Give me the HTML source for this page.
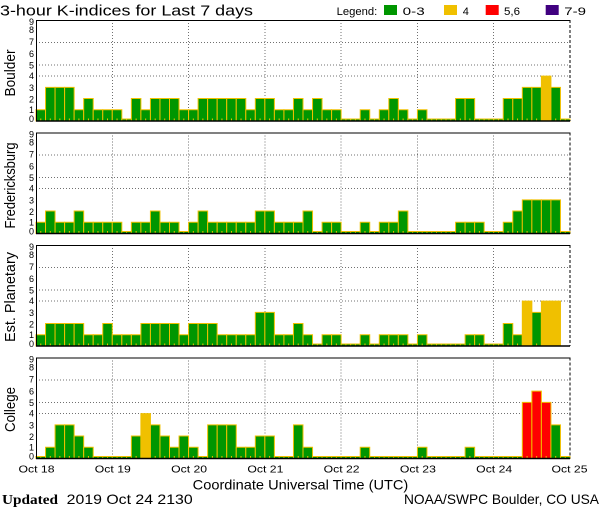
<!DOCTYPE html>
<html><head><meta charset="utf-8"><style>
html,body{margin:0;padding:0;background:#fff;width:600px;height:510px;overflow:hidden}
svg{display:block}
text{font-family:"Liberation Sans",sans-serif;fill:#000}
.b rect{fill:#009600;stroke:#F0C000;stroke-width:1;vector-effect:non-scaling-stroke}
.b rect.o{fill:#F0C000}
.b rect.r{fill:#FF0000}
.yl text{font-size:9px;text-anchor:end}
.xl text{font-size:10.5px;text-anchor:middle}
</style></head><body>
<svg width="600" height="510" viewBox="0 0 600 510" xmlns="http://www.w3.org/2000/svg">
<defs>
<g id="grid" stroke="#707070" stroke-width="1" stroke-dasharray="1,2" fill="none" shape-rendering="crispEdges">
<line x1="36" y1="56.1" x2="570" y2="56.1"/>
<line x1="36" y1="44.9" x2="570" y2="44.9"/>
<line x1="36" y1="22.4" x2="570" y2="22.4"/>
<line x1="112.3" y1="0" x2="112.3" y2="101"/>
<line x1="188.6" y1="0" x2="188.6" y2="101"/>
<line x1="264.9" y1="0" x2="264.9" y2="101"/>
<line x1="341.1" y1="0" x2="341.1" y2="101"/>
<line x1="417.4" y1="0" x2="417.4" y2="101"/>
<line x1="493.7" y1="0" x2="493.7" y2="101"/>
</g>
<g id="frame" fill="none" stroke="#000">
<line x1="36" y1="0.5" x2="570" y2="0.5" stroke-width="1"/>
<line x1="36.5" y1="0" x2="36.5" y2="101" stroke-width="1"/>
<line x1="570" y1="0" x2="570" y2="101" stroke-width="1" stroke-dasharray="3,2"/>
<line x1="36" y1="101" x2="570" y2="101" stroke-width="1.6"/>
</g>
</defs>

<!-- Title & legend -->
<text x="0" y="15.5" font-size="15" textLength="253" lengthAdjust="spacingAndGlyphs">3-hour K-indices for Last 7 days</text>
<text x="336.7" y="15" font-size="11" textLength="40.6" lengthAdjust="spacingAndGlyphs">Legend:</text>
<rect x="384" y="5" width="13" height="10" fill="#009600"/>
<text x="402.7" y="15" font-size="11" textLength="22" lengthAdjust="spacingAndGlyphs">0-3</text>
<rect x="444" y="5" width="13" height="10" fill="#F0C000"/>
<text x="462.7" y="15" font-size="11">4</text>
<rect x="485.7" y="5" width="13" height="10" fill="#FF0000"/>
<text x="504" y="15" font-size="11" textLength="16" lengthAdjust="spacingAndGlyphs">5,6</text>
<rect x="545.7" y="5" width="13" height="10" fill="#400080"/>
<text x="564.3" y="15" font-size="11" textLength="21.7" lengthAdjust="spacingAndGlyphs">7-9</text>

<!-- Grids -->
<use href="#grid" transform="translate(0,20)"/>
<use href="#grid" transform="translate(0,132.5)"/>
<use href="#grid" transform="translate(0,245)"/>
<use href="#grid" transform="translate(0,357.5)"/>

<!-- Boulder bars -->
<g class="b" transform="translate(36,121) scale(9.5357,-11.222)">
<rect x="0" width="1" height="1"/><rect x="1" width="1" height="3"/><rect x="2" width="1" height="3"/><rect x="3" width="1" height="3"/><rect x="4" width="1" height="1"/><rect x="5" width="1" height="2"/><rect x="6" width="1" height="1"/><rect x="7" width="1" height="1"/><rect x="8" width="1" height="1"/><rect x="9" width="1" height=".18"/>
<rect x="10" width="1" height="2"/><rect x="11" width="1" height="1"/><rect x="12" width="1" height="2"/><rect x="13" width="1" height="2"/><rect x="14" width="1" height="2"/><rect x="15" width="1" height="1"/><rect x="16" width="1" height="1"/><rect x="17" width="1" height="2"/><rect x="18" width="1" height="2"/><rect x="19" width="1" height="2"/>
<rect x="20" width="1" height="2"/><rect x="21" width="1" height="2"/><rect x="22" width="1" height="1"/><rect x="23" width="1" height="2"/><rect x="24" width="1" height="2"/><rect x="25" width="1" height="1"/><rect x="26" width="1" height="1"/><rect x="27" width="1" height="2"/><rect x="28" width="1" height="1"/><rect x="29" width="1" height="2"/>
<rect x="30" width="1" height="1"/><rect x="31" width="1" height="1"/><rect x="32" width="1" height=".18"/><rect x="33" width="1" height=".18"/><rect x="34" width="1" height="1"/><rect x="35" width="1" height=".18"/><rect x="36" width="1" height="1"/><rect x="37" width="1" height="2"/><rect x="38" width="1" height="1"/><rect x="39" width="1" height=".18"/>
<rect x="40" width="1" height="1"/><rect x="41" width="1" height=".18"/><rect x="42" width="1" height=".18"/><rect x="43" width="1" height=".18"/><rect x="44" width="1" height="2"/><rect x="45" width="1" height="2"/><rect x="46" width="1" height=".18"/><rect x="47" width="1" height=".18"/><rect x="48" width="1" height=".18"/><rect x="49" width="1" height="2"/>
<rect x="50" width="1" height="2"/><rect x="51" width="1" height="3"/><rect x="52" width="1" height="3"/><rect class="o" x="53" width="1" height="4"/><rect x="54" width="1" height="3"/><rect x="55" width="1" height=".18"/>
</g>

<!-- Fredericksburg bars -->
<g class="b" transform="translate(36,233.5) scale(9.5357,-11.222)">
<rect x="0" width="1" height="1"/><rect x="1" width="1" height="2"/><rect x="2" width="1" height="1"/><rect x="3" width="1" height="1"/><rect x="4" width="1" height="2"/><rect x="5" width="1" height="1"/><rect x="6" width="1" height="1"/><rect x="7" width="1" height="1"/><rect x="8" width="1" height="1"/><rect x="9" width="1" height=".18"/>
<rect x="10" width="1" height="1"/><rect x="11" width="1" height="1"/><rect x="12" width="1" height="2"/><rect x="13" width="1" height="1"/><rect x="14" width="1" height="1"/><rect x="15" width="1" height=".18"/><rect x="16" width="1" height="1"/><rect x="17" width="1" height="2"/><rect x="18" width="1" height="1"/><rect x="19" width="1" height="1"/>
<rect x="20" width="1" height="1"/><rect x="21" width="1" height="1"/><rect x="22" width="1" height="1"/><rect x="23" width="1" height="2"/><rect x="24" width="1" height="2"/><rect x="25" width="1" height="1"/><rect x="26" width="1" height="1"/><rect x="27" width="1" height="1"/><rect x="28" width="1" height="2"/><rect x="29" width="1" height=".18"/>
<rect x="30" width="1" height="1"/><rect x="31" width="1" height="1"/><rect x="32" width="1" height=".18"/><rect x="33" width="1" height=".18"/><rect x="34" width="1" height="1"/><rect x="35" width="1" height=".18"/><rect x="36" width="1" height="1"/><rect x="37" width="1" height="1"/><rect x="38" width="1" height="2"/><rect x="39" width="1" height=".18"/>
<rect x="40" width="1" height=".18"/><rect x="41" width="1" height=".18"/><rect x="42" width="1" height=".18"/><rect x="43" width="1" height=".18"/><rect x="44" width="1" height="1"/><rect x="45" width="1" height="1"/><rect x="46" width="1" height="1"/><rect x="47" width="1" height=".18"/><rect x="48" width="1" height=".18"/><rect x="49" width="1" height="1"/>
<rect x="50" width="1" height="2"/><rect x="51" width="1" height="3"/><rect x="52" width="1" height="3"/><rect x="53" width="1" height="3"/><rect x="54" width="1" height="3"/><rect x="55" width="1" height=".18"/>
</g>

<!-- Est. Planetary bars -->
<g class="b" transform="translate(36,346) scale(9.5357,-11.222)">
<rect x="0" width="1" height="1"/><rect x="1" width="1" height="2"/><rect x="2" width="1" height="2"/><rect x="3" width="1" height="2"/><rect x="4" width="1" height="2"/><rect x="5" width="1" height="1"/><rect x="6" width="1" height="1"/><rect x="7" width="1" height="2"/><rect x="8" width="1" height="1"/><rect x="9" width="1" height="1"/>
<rect x="10" width="1" height="1"/><rect x="11" width="1" height="2"/><rect x="12" width="1" height="2"/><rect x="13" width="1" height="2"/><rect x="14" width="1" height="2"/><rect x="15" width="1" height="1"/><rect x="16" width="1" height="2"/><rect x="17" width="1" height="2"/><rect x="18" width="1" height="2"/><rect x="19" width="1" height="1"/>
<rect x="20" width="1" height="1"/><rect x="21" width="1" height="1"/><rect x="22" width="1" height="1"/><rect x="23" width="1" height="3"/><rect x="24" width="1" height="3"/><rect x="25" width="1" height="1"/><rect x="26" width="1" height="1"/><rect x="27" width="1" height="2"/><rect x="28" width="1" height="1"/><rect x="29" width="1" height=".18"/>
<rect x="30" width="1" height="1"/><rect x="31" width="1" height="1"/><rect x="32" width="1" height=".18"/><rect x="33" width="1" height=".18"/><rect x="34" width="1" height="1"/><rect x="35" width="1" height=".18"/><rect x="36" width="1" height="1"/><rect x="37" width="1" height="1"/><rect x="38" width="1" height="1"/><rect x="39" width="1" height=".18"/>
<rect x="40" width="1" height="1"/><rect x="41" width="1" height=".18"/><rect x="42" width="1" height=".18"/><rect x="43" width="1" height=".18"/><rect x="44" width="1" height=".18"/><rect x="45" width="1" height="1"/><rect x="46" width="1" height="1"/><rect x="47" width="1" height=".18"/><rect x="48" width="1" height=".18"/><rect x="49" width="1" height="2"/>
<rect x="50" width="1" height="1"/><rect class="o" x="51" width="1" height="4"/><rect x="52" width="1" height="3"/><rect class="o" x="53" width="1" height="4"/><rect class="o" x="54" width="1" height="4"/>
</g>

<!-- College bars -->
<g class="b" transform="translate(36,458.5) scale(9.5357,-11.222)">
<rect x="0" width="1" height=".18"/><rect x="1" width="1" height="1"/><rect x="2" width="1" height="3"/><rect x="3" width="1" height="3"/><rect x="4" width="1" height="2"/><rect x="5" width="1" height="1"/><rect x="6" width="1" height=".18"/><rect x="7" width="1" height=".18"/><rect x="8" width="1" height=".18"/><rect x="9" width="1" height=".18"/>
<rect x="10" width="1" height="2"/><rect class="o" x="11" width="1" height="4"/><rect x="12" width="1" height="3"/><rect x="13" width="1" height="2"/><rect x="14" width="1" height="1"/><rect x="15" width="1" height="2"/><rect x="16" width="1" height="1"/><rect x="17" width="1" height=".18"/><rect x="18" width="1" height="3"/><rect x="19" width="1" height="3"/>
<rect x="20" width="1" height="3"/><rect x="21" width="1" height="1"/><rect x="22" width="1" height="1"/><rect x="23" width="1" height="2"/><rect x="24" width="1" height="2"/><rect x="25" width="1" height=".18"/><rect x="26" width="1" height=".18"/><rect x="27" width="1" height="3"/><rect x="28" width="1" height="1"/><rect x="29" width="1" height=".18"/>
<rect x="30" width="1" height=".18"/><rect x="31" width="1" height=".18"/><rect x="32" width="1" height=".18"/><rect x="33" width="1" height=".18"/><rect x="34" width="1" height="1"/><rect x="35" width="1" height=".18"/><rect x="36" width="1" height=".18"/><rect x="37" width="1" height=".18"/><rect x="38" width="1" height=".18"/><rect x="39" width="1" height=".18"/>
<rect x="40" width="1" height="1"/><rect x="41" width="1" height=".18"/><rect x="42" width="1" height=".18"/><rect x="43" width="1" height=".18"/><rect x="44" width="1" height=".18"/><rect x="45" width="1" height="1"/><rect x="46" width="1" height=".18"/><rect x="47" width="1" height=".18"/><rect x="48" width="1" height=".18"/><rect x="49" width="1" height=".18"/>
<rect x="50" width="1" height=".18"/><rect class="r" x="51" width="1" height="5"/><rect class="r" x="52" width="1" height="6"/><rect class="r" x="53" width="1" height="5"/><rect x="54" width="1" height="3"/><rect x="55" width="1" height=".18"/>
</g>

<!-- small orange ticks at bar centers -->
<g stroke="#F0C000" stroke-width="2" stroke-dasharray="1 8.5357" stroke-dashoffset="5.27" fill="none">
<line x1="36" y1="119.5" x2="570" y2="119.5"/>
<line x1="36" y1="232" x2="570" y2="232"/>
<line x1="36" y1="344.5" x2="560.5" y2="344.5"/>
<line x1="36" y1="457" x2="570" y2="457"/>
</g>

<!-- Frames -->
<use href="#frame" transform="translate(0,20)"/>
<use href="#frame" transform="translate(0,132.5)"/>
<use href="#frame" transform="translate(0,245)"/>
<use href="#frame" transform="translate(0,357.5)"/>

<!-- Y labels -->
<g class="yl" transform="translate(0,20)">
<text x="34" y="5.2">9</text><text x="34" y="13.2">8</text><text x="34" y="25.2">7</text><text x="34" y="37.2">6</text><text x="34" y="48.7">5</text><text x="34" y="59.2">4</text><text x="34" y="71.2">3</text><text x="34" y="82.7">2</text><text x="34" y="93.2">1</text><text x="34" y="102.2">0</text>
</g>
<g class="yl" transform="translate(0,132.5)">
<text x="34" y="5.2">9</text><text x="34" y="13.2">8</text><text x="34" y="25.2">7</text><text x="34" y="37.2">6</text><text x="34" y="48.7">5</text><text x="34" y="59.2">4</text><text x="34" y="71.2">3</text><text x="34" y="82.7">2</text><text x="34" y="93.2">1</text><text x="34" y="102.2">0</text>
</g>
<g class="yl" transform="translate(0,245)">
<text x="34" y="5.2">9</text><text x="34" y="13.2">8</text><text x="34" y="25.2">7</text><text x="34" y="37.2">6</text><text x="34" y="48.7">5</text><text x="34" y="59.2">4</text><text x="34" y="71.2">3</text><text x="34" y="82.7">2</text><text x="34" y="93.2">1</text><text x="34" y="102.2">0</text>
</g>
<g class="yl" transform="translate(0,357.5)">
<text x="34" y="5.2">9</text><text x="34" y="13.2">8</text><text x="34" y="25.2">7</text><text x="34" y="37.2">6</text><text x="34" y="48.7">5</text><text x="34" y="59.2">4</text><text x="34" y="71.2">3</text><text x="34" y="82.7">2</text><text x="34" y="93.2">1</text><text x="34" y="102.2">0</text>
</g>

<!-- Panel titles -->
<text transform="translate(15,73) rotate(-90)" text-anchor="middle" font-size="15" textLength="47" lengthAdjust="spacingAndGlyphs">Boulder</text>
<text transform="translate(15,185.5) rotate(-90)" text-anchor="middle" font-size="15" textLength="86" lengthAdjust="spacingAndGlyphs">Fredericksburg</text>
<text transform="translate(15,297) rotate(-90)" text-anchor="middle" font-size="15" textLength="90" lengthAdjust="spacingAndGlyphs">Est. Planetary</text>
<text transform="translate(15,409.5) rotate(-90)" text-anchor="middle" font-size="15" textLength="45" lengthAdjust="spacingAndGlyphs">College</text>

<!-- X labels -->
<g class="xl">
<text x="36.5" y="472.7" textLength="36" lengthAdjust="spacingAndGlyphs">Oct 18</text>
<text x="112.8" y="472.7" textLength="36" lengthAdjust="spacingAndGlyphs">Oct 19</text>
<text x="189.1" y="472.7" textLength="36" lengthAdjust="spacingAndGlyphs">Oct 20</text>
<text x="265.4" y="472.7" textLength="36" lengthAdjust="spacingAndGlyphs">Oct 21</text>
<text x="341.6" y="472.7" textLength="36" lengthAdjust="spacingAndGlyphs">Oct 22</text>
<text x="417.9" y="472.7" textLength="36" lengthAdjust="spacingAndGlyphs">Oct 23</text>
<text x="494.2" y="472.7" textLength="36" lengthAdjust="spacingAndGlyphs">Oct 24</text>
<text x="569.5" y="472.7" textLength="36" lengthAdjust="spacingAndGlyphs">Oct 25</text>
</g>

<text x="192.7" y="489.3" font-size="14" textLength="215.6" lengthAdjust="spacingAndGlyphs">Coordinate Universal Time (UTC)</text>

<text x="2" y="504" font-size="14" font-weight="bold" style="font-family:'Liberation Serif',serif" textLength="56" lengthAdjust="spacingAndGlyphs">Updated</text>
<text x="66.7" y="504" font-size="14" textLength="126" lengthAdjust="spacingAndGlyphs">2019 Oct 24 2130</text>
<text x="404" y="504" font-size="14" textLength="195" lengthAdjust="spacingAndGlyphs">NOAA/SWPC Boulder, CO USA</text>
</svg>
</body></html>
